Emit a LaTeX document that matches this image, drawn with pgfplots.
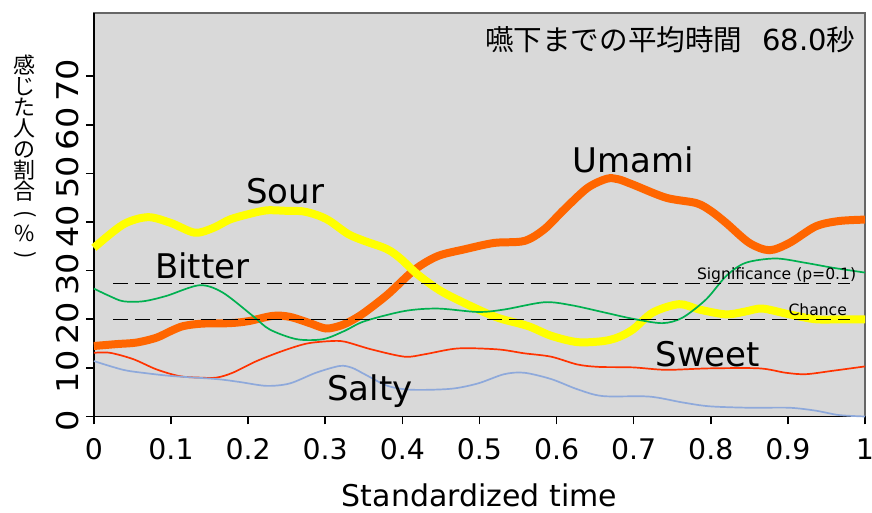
\documentclass[border=0pt]{standalone}
\usepackage{pgfplots}
\pgfplotsset{compat=1.18}
\usepackage{fontspec}
\setmainfont{DejaVu Sans}
\newfontfamily\jp{Noto Sans CJK JP}
\definecolor{bg}{HTML}{D9D9D9}
\definecolor{sourc}{HTML}{FFFF00}
\definecolor{umamic}{HTML}{FF6600}
\definecolor{bitterc}{HTML}{00B050}
\definecolor{sweetc}{HTML}{FF3300}
\definecolor{saltyc}{HTML}{8EA9DB}
\begin{document}
\begin{tikzpicture}
\begin{axis}[
  name=ax,
  scale only axis, width=386pt, height=202pt,
  xmin=0, xmax=1, ymin=0, ymax=83,
  clip=false,
  axis x line*=bottom, axis y line*=left,
  axis line style={-, black, line width=0.8pt},
  axis background/.style={fill=bg, draw=black!60, line width=0.8pt},
  tick align=outside,
  major tick length=4pt,
  tick style={black, line width=0.8pt},
  xtick={0,0.1,0.2,0.3,0.4,0.5,0.6,0.7,0.8,0.9,1},
  xticklabels={0,0.1,0.2,0.3,0.4,0.5,0.6,0.7,0.8,0.9,1},
  ytick={0,10,20,30,40,50,60,70},
  xticklabel style={font=\fontsize{14.2}{15}\selectfont, yshift=-6pt, inner sep=1pt},
  yticklabel style={font=\fontsize{15}{15}\selectfont, rotate=90, anchor=south, xshift=-2pt},
  yticklabel={\scalebox{1.12}[1]{\pgfmathprintnumber[assume math mode=true]{\tick}}},
  xlabel={Standardized time},
  xlabel style={font=\fontsize{15}{15}\selectfont, yshift=-10.5pt, inner sep=0pt},
]
\addplot[umamic, line width=4pt, smooth] coordinates {(0,14.5)(0.03,14.9)(0.055,15.2)(0.081,16.2)(0.10,17.6)(0.116,18.6)(0.14,19.1)(0.176,19.2)(0.20,19.6)(0.232,20.7)(0.254,20.5)(0.28,19.2)(0.301,18.1)(0.32,18.7)(0.335,19.8)(0.351,21.4)(0.381,25.1)(0.416,30.2)(0.446,33.0)(0.481,34.4)(0.519,35.7)(0.558,36.1)(0.584,38.5)(0.61,42.6)(0.64,47.0)(0.665,48.9)(0.68,48.8)(0.699,47.7)(0.742,45.0)(0.781,43.9)(0.80,42.3)(0.82,39.8)(0.85,35.7)(0.876,34.2)(0.902,35.7)(0.936,39.1)(0.966,40.2)(1,40.5)};
\addplot[sourc, line width=4pt, smooth] coordinates {(0,34.7)(0.038,39.5)(0.07,41.0)(0.10,39.8)(0.131,37.8)(0.155,38.8)(0.176,40.5)(0.20,41.6)(0.224,42.4)(0.25,42.3)(0.271,42.2)(0.29,41.4)(0.306,40.2)(0.33,37.5)(0.351,36.1)(0.373,34.9)(0.385,34.0)(0.399,32.3)(0.42,29.2)(0.45,25.8)(0.489,22.7)(0.524,20.3)(0.563,18.6)(0.593,16.6)(0.627,15.3)(0.66,15.5)(0.68,16.3)(0.699,17.9)(0.725,21.4)(0.759,23.1)(0.785,22.0)(0.82,21.0)(0.845,21.6)(0.867,22.2)(0.902,21.0)(0.936,20.0)(0.97,20.0)(1,20.0)};
\addplot[bitterc, line width=0.85pt, smooth] coordinates {(0,26.3)(0.02,24.8)(0.038,23.7)(0.064,23.7)(0.094,24.8)(0.137,27.0)(0.167,25.5)(0.206,20.7)(0.228,17.9)(0.263,15.9)(0.297,15.9)(0.325,17.6)(0.351,19.6)(0.403,21.7)(0.446,22.2)(0.498,21.5)(0.532,22.0)(0.584,23.5)(0.619,22.9)(0.662,21.4)(0.699,20.1)(0.737,19.2)(0.763,20.3)(0.794,24.1)(0.820,28.9)(0.845,31.6)(0.884,32.5)(0.923,31.6)(0.958,30.6)(1,29.6)};
\addplot[sweetc, line width=0.85pt, smooth] coordinates {(0,13.1)(0.021,13.1)(0.051,11.8)(0.081,9.7)(0.111,8.3)(0.137,8.0)(0.159,8.0)(0.180,9.0)(0.211,11.4)(0.245,13.5)(0.276,15.0)(0.306,15.5)(0.325,15.4)(0.360,13.8)(0.403,12.3)(0.429,12.8)(0.472,14.0)(0.524,13.8)(0.558,13.0)(0.593,12.3)(0.627,10.7)(0.655,10.2)(0.699,10.1)(0.742,9.6)(0.798,9.9)(0.863,9.9)(0.897,9.0)(0.923,8.7)(0.958,9.4)(1,10.3)};
\addplot[saltyc, line width=0.85pt, smooth] coordinates {(0,11.4)(0.038,9.6)(0.068,8.9)(0.103,8.3)(0.159,7.7)(0.189,7.1)(0.224,6.3)(0.254,6.8)(0.288,9.0)(0.319,10.4)(0.335,10.0)(0.351,8.7)(0.381,6.3)(0.412,5.5)(0.463,5.7)(0.498,6.8)(0.532,8.7)(0.558,9.0)(0.593,7.7)(0.627,5.6)(0.66,4.2)(0.720,4.1)(0.763,2.9)(0.798,2.1)(0.850,1.8)(0.902,1.8)(0.936,1.2)(0.966,0.3)(1,0)};
\addplot[black, line width=0.75pt, dash pattern=on 7.5pt off 3.5pt] coordinates {(0.025,27.4)(0.981,27.4)};
\addplot[black, line width=0.75pt, dash pattern=on 7.5pt off 3.5pt] coordinates {(0.025,20)(0.981,20)};
\node[font=\fontsize{7.8}{8}\selectfont, anchor=base east, inner sep=0pt] at (axis cs:0.989,28.1) {Significance (p=0.1)};
\node[font=\fontsize{7.8}{8}\selectfont, anchor=base east, inner sep=0pt] at (axis cs:0.977,20.8) {Chance};
\node[font=\fontsize{17}{17}\selectfont, anchor=base, inner sep=0pt] at (axis cs:0.248,43.9) {Sour};
\node[font=\fontsize{17}{17}\selectfont, anchor=base, inner sep=0pt] at (axis cs:0.1405,28.4) {Bitter};
\node[font=\fontsize{17}{17}\selectfont, anchor=base, inner sep=0pt] at (axis cs:0.699,50.1) {Umami};
\node[font=\fontsize{17}{17}\selectfont, anchor=base, inner sep=0pt] at (axis cs:0.796,10.3) {Sweet};
\node[font=\fontsize{17}{17}\selectfont, anchor=base, inner sep=0pt] at (axis cs:0.358,3.2) {Salty};
\node[anchor=east, inner sep=0pt] at (axis cs:0.988,77.5) {{\jp\fontsize{14.3}{15}\selectfont 嚥下までの平均時間}\hspace{10pt}{\fontsize{14.5}{15}\selectfont 68.0}{\jp\fontsize{14.3}{15}\selectfont 秒}};
\node[font=\jp\fontsize{11}{10.5}\selectfont, align=center, inner sep=0pt, xshift=-34.5pt] at (axis cs:0,53) {感\\じ\\た\\人\\の\\割\\合\\\rotatebox[origin=c]{-90}{(}\\\%\\\rotatebox[origin=c]{-90}{)}};
\end{axis}
\pgfresetboundingbox
\path ([shift={(-47pt,-48pt)}]ax.south west) rectangle ([shift={(3.5pt,6.5pt)}]ax.north east);
\end{tikzpicture}
\end{document}
